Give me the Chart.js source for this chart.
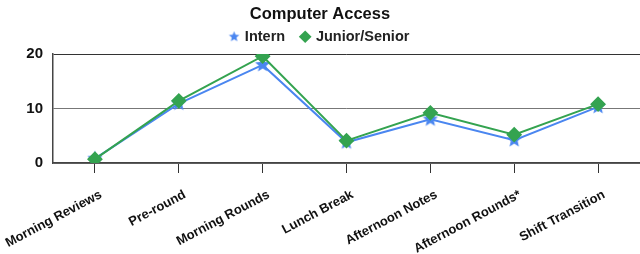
<!DOCTYPE html>
<html>
<head>
<meta charset="utf-8">
<script src="https://cdn.jsdelivr.net/npm/chart.js@4"></script>
<style>
  html, body { margin: 0; padding: 0; background: #fff; }
  #wrap { width: 640px; height: 254px; }
</style>
</head>
<body>
<div id="wrap"><canvas id="chart" width="640" height="254"></canvas></div>
<script>
// ── Data ─────────────────────────────────────────────────────
const categories = ['Morning Reviews', 'Pre-round', 'Morning Rounds', 'Lunch Break',
                    'Afternoon Notes', 'Afternoon Rounds*', 'Shift Transition'];
const internValues = [0.8, 10.9, 18.0, 3.8, 8.0, 4.2, 10.3];
const juniorValues = [0.7, 11.4, 19.6, 4.1, 9.2, 5.2, 10.8];
const yTicks = [0, 10, 20];

const BLUE = '#4a86f0';
const GREEN = '#34a350';
const FONT = '"Liberation Sans", Arial, sans-serif';

// filled 5-point star, used as the point style for the intern series
function makeStar(r, color) {
  const c = document.createElement('canvas');
  c.width = c.height = r * 2 + 2;
  const g = c.getContext('2d');
  g.fillStyle = color;
  g.beginPath();
  for (let i = 0; i < 10; i++) {
    const rad = i % 2 === 0 ? r : r * 0.45;
    const a = -Math.PI / 2 + i * Math.PI / 5;
    const px = r + 1 + rad * Math.cos(a), py = r + 1 + rad * Math.sin(a);
    i === 0 ? g.moveTo(px, py) : g.lineTo(px, py);
  }
  g.closePath();
  g.fill();
  return c;
}
const starPoint = makeStar(8, BLUE);
const starLegend = makeStar(5.5, BLUE);

new Chart(document.getElementById('chart').getContext('2d'), {
  type: 'line',
  data: {
    labels: categories,
    datasets: [
      {
        label: 'Intern',
        data: internValues,
        borderColor: BLUE,
        backgroundColor: BLUE,
        borderWidth: 2,
        pointStyle: starPoint,
        order: 2,
        tension: 0,
      },
      {
        label: 'Junior/Senior',
        data: juniorValues,
        borderColor: GREEN,
        backgroundColor: GREEN,
        borderWidth: 2,
        pointStyle: 'rectRot',
        pointRadius: 6.5,
        order: 1,
        tension: 0,
      }
    ]
  },
  options: {
    responsive: false,
    animation: false,
    layout: { autoPadding: false, padding: { left: 0, right: 0, top: 0, bottom: 0 } },
    plugins: {
      title: {
        display: true,
        text: 'Computer Access',
        color: '#111',
        font: { family: FONT, size: 16.5, weight: 'bold', lineHeight: 1 },
        padding: { top: 6, bottom: -1.5 }
      },
      legend: {
        labels: {
          usePointStyle: true,
          boxHeight: 7,
          boxWidth: 7,
          color: '#222',
          font: { family: FONT, size: 14.5, weight: 'bold' },
          padding: 8.5,
          generateLabels: (chart) => {
            const items = Chart.defaults.plugins.legend.labels.generateLabels(chart);
            items.sort((a, b) => a.datasetIndex - b.datasetIndex);
            items[0].pointStyle = starLegend;
            items[0].text += '  ';   // wider gap between the two entries
            items[1].pointStyle = 'rectRot';
            return items;
          }
        }
      },
      tooltip: { enabled: false }
    },
    scales: {
      x: {
        offset: true,
        afterFit: (axis) => { axis.paddingRight = 0; axis.paddingLeft = 0; axis.height = 91; },
        grid: { offset: false, drawOnChartArea: false, tickLength: 10, color: '#333' },
        border: { color: '#444', width: 1.5 },
        ticks: {
          color: '#111',
          maxRotation: 28, minRotation: 28,
          labelOffset: 6,
          font: { family: FONT, size: 13, weight: 'bold' },
          padding: 14
        }
      },
      y: {
        min: 0, max: 20,
        afterBuildTicks: (axis) => { axis.ticks = yTicks.map(v => ({ value: v })); },
        afterFit: (axis) => { axis.width = 53; },
        grid: {
          color: (ctx) => ctx.tick && ctx.tick.value === 20 ? '#333' : '#777',
          drawTicks: false
        },
        border: { color: '#444', width: 1.5 },
        ticks: {
          color: '#111',
          font: { family: FONT, size: 15, weight: 'bold' },
          padding: 10
        }
      }
    }
  }
});
</script>
</body>
</html>
